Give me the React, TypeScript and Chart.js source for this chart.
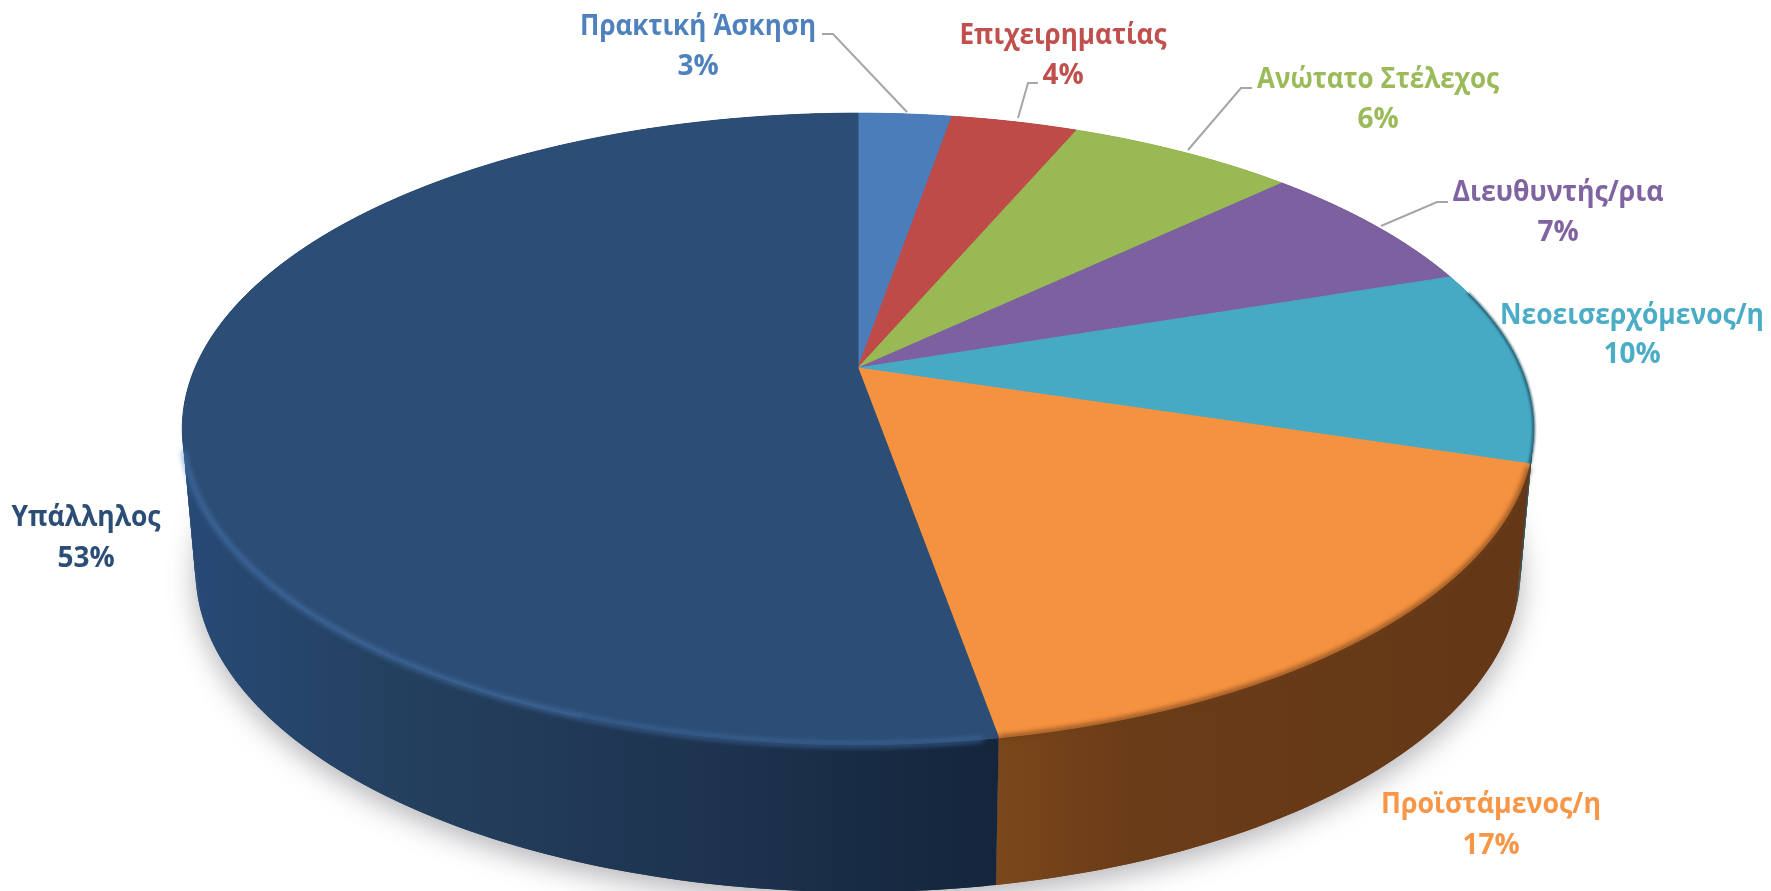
import React, { useEffect, useRef } from "react";
import { Chart, registerables } from "chart.js";

Chart.register(...registerables);

// ---- data ----
const categories = ["Πρακτική Άσκηση", "Επιχειρηματίας", "Ανώτατο Στέλεχος", "Διευθυντής/ρια", "Νεοεισερχόμενος/η", "Προϊστάμενος/η", "Υπάλληλος"];
const values = [2.7, 3.65, 6.55, 6.95, 9.95, 17.45, 52.75];
const percentLabels = ["3%", "4%", "6%", "7%", "10%", "17%", "53%"];
const faceColors = ["#4a7dba", "#be4b48", "#98b954", "#7d60a0", "#46aac5", "#f59240", "#2c4d75"];
const labelColors = ["#4f81bd", "#c0504d", "#9bbb59", "#8064a2", "#4bacc6", "#f79646", "#2c4d75"];
const wallStops = [
  [[0, "#2f5a8a"], [1, "#2f5a8a"]],
  [[0, "#7c2f2d"], [1, "#7c2f2d"]],
  [[0, "#5f7637"], [1, "#5f7637"]],
  [[0, "#4f3c66"], [1, "#4f3c66"]],
  [[0, "#3c4f4c"], [1, "#3c4f4c"]],
  [[0, "#7b471b"], [0.25, "#6b3c18"], [1, "#633717"]],
  [[0, "#274a76"], [0.27, "#24405f"], [0.63, "#1e3450"], [1, "#14253c"]],
];
const labelCentres = [[698, 27, 67, 236], [1063, 36, 76, 207], [1378, 80, 120, 242], [1558, 193, 233, 211], [1632, 316, 355, 264], [1491, 805, 846, 220], [86, 518, 559, 149]];
const leaders = [
  [[822, 34], [833, 34], [907, 112]],
  [[1038, 83], [1028, 83], [1018, 118]],
  [[1252, 88], [1241, 88], [1188, 150]],
  [[1448, 202], [1437, 202], [1381, 226]],
];

// projective tilt of the circular pie
const TILT = 0.193;
const TOP = { kx: 2.21, ky: 1.0133, dy: 0 };
const BOTTOM = { kx: 2.167, ky: 1.033, dy: 140 };

function pt(el: any, a: number, f: any): [number, number] {
  const w = 1 - TILT * Math.sin(a);
  return [el.x + (f.kx * el.outerRadius * Math.cos(a)) / w, el.y + f.dy + (f.ky * el.outerRadius * Math.sin(a)) / w];
}
function arcPts(el: any, a0: number, a1: number, f: any) {
  const n = Math.max(2, Math.ceil(Math.abs(a1 - a0) / 0.01));
  const out: [number, number][] = [];
  for (let i = 0; i <= n; i++) out.push(pt(el, a0 + ((a1 - a0) * i) / n, f));
  return out;
}
function trace(ctx: CanvasRenderingContext2D, pts: [number, number][], move = true) {
  pts.forEach((p, i) => (i === 0 && move ? ctx.moveTo(p[0], p[1]) : ctx.lineTo(p[0], p[1])));
}
function rim(ctx: CanvasRenderingContext2D, el: any, a0: number, a1: number, colour: string, width: number, blur: number) {
  ctx.save();
  ctx.filter = `blur(${blur}px)`;
  ctx.strokeStyle = colour;
  ctx.lineWidth = width;
  ctx.beginPath();
  trace(ctx, arcPts(el, a0, a1, TOP));
  ctx.stroke();
  ctx.restore();
}

const tiltedPie = {
  id: "tiltedPie",
  beforeDatasetDraw(chart: any) {
    const ctx: CanvasRenderingContext2D = chart.ctx;
    const arcs = chart.getDatasetMeta(0).data;
    const first = arcs[0];

    // soft ground shadow
    ctx.save();
    ctx.filter = "blur(14px)";
    ctx.fillStyle = "rgba(60,60,70,0.38)";
    ctx.beginPath();
    trace(ctx, arcPts(first, 0, Math.PI * 2, { ...BOTTOM, dy: BOTTOM.dy + 9 }));
    ctx.fill();
    ctx.restore();

    // side walls: overlapping opaque quads between the top rim and the bottom rim
    arcs.forEach((el: any, i: number) => {
      const top = arcPts(el, el.startAngle, el.endAngle, TOP);
      const bot = arcPts(el, el.startAngle, el.endAngle, BOTTOM);
      const xs = [...top, ...bot].map((p) => p[0]);
      const visibleRight = i === 6 ? 994 : Math.max(...xs);
      const g = ctx.createLinearGradient(Math.min(...xs), 0, visibleRight, 0);
      wallStops[i].forEach((s: any) => g.addColorStop(s[0], s[1]));
      ctx.fillStyle = g;
      const last = top.length - 1;
      for (let k = 0; k < last; k++) {
        const e = Math.min(k + 2, last);
        ctx.beginPath();
        ctx.moveTo(top[k][0], top[k][1]);
        ctx.lineTo(top[e][0], top[e][1]);
        ctx.lineTo(bot[e][0], bot[e][1]);
        ctx.lineTo(bot[k][0], bot[k][1]);
        ctx.closePath();
        ctx.fill();
      }
    });

    // top faces
    arcs.forEach((el: any) => {
      ctx.fillStyle = el.options.backgroundColor;
      ctx.strokeStyle = el.options.backgroundColor;
      ctx.lineWidth = 1;
      ctx.beginPath();
      ctx.moveTo(el.x, el.y);
      trace(ctx, arcPts(el, el.startAngle, el.endAngle, TOP), false);
      ctx.closePath();
      ctx.fill();
      ctx.stroke();
    });

    // bevel along the front rim
    const navy = arcs[6];
    const orange = arcs[5];
    const teal = arcs[4];
    rim(ctx, navy, navy.startAngle + 0.02, (165 * Math.PI) / 180, "rgba(74,122,180,0.55)", 6, 2.5);
    rim(ctx, navy, navy.startAngle + 0.02, (110 * Math.PI) / 180, "rgba(20,36,60,0.25)", 2, 1);
    rim(ctx, orange, orange.startAngle + 0.01, orange.endAngle, "rgba(110,62,24,0.75)", 5, 2.5);
    rim(ctx, teal, (-15 * Math.PI) / 180, teal.endAngle, "rgba(30,75,92,0.75)", 3, 1);
    return false;
  },
  afterDatasetsDraw(chart: any) {
    const ctx: CanvasRenderingContext2D = chart.ctx;
    ctx.save();
    ctx.strokeStyle = "#a6a6a6";
    ctx.lineWidth = 2;
    leaders.forEach((line) => {
      ctx.beginPath();
      trace(ctx, line as [number, number][]);
      ctx.stroke();
    });
    ctx.font = 'bold 28px "Open Sans"';
    ctx.textAlign = "center";
    ctx.textBaseline = "middle";
    categories.forEach((name, i) => {
      const [x, y1, y2, width] = labelCentres[i];
      ctx.fillStyle = labelColors[i];
      ctx.fillText(name, x, y1, width);
      ctx.fillText(percentLabels[i], x, y2);
    });
    ctx.restore();
  },
};

export default function App() {
  const ref = useRef<HTMLCanvasElement>(null);
  useEffect(() => {
    document.body.style.margin = "0";
    document.body.style.background = "#fff";
    const chart = new Chart(ref.current!, {
      type: "pie",
      data: {
        labels: categories,
        datasets: [{ data: values, backgroundColor: faceColors, borderWidth: 0 }],
      },
      options: {
        responsive: false,
        devicePixelRatio: 1,
        animation: false,
        layout: { padding: { left: 558, right: 613, top: 68, bottom: 223 } },
        plugins: { legend: { display: false }, tooltip: { enabled: false } },
      },
      plugins: [tiltedPie],
    } as any);
    return () => chart.destroy();
  }, []);
  return (
    <div style={{ position: "fixed", left: 0, top: 0, width: 1771, height: 891, overflow: "hidden", background: "#fff" }}>
      <canvas ref={ref} width={1771} height={891} style={{ display: "block" }} />
    </div>
  );
}
